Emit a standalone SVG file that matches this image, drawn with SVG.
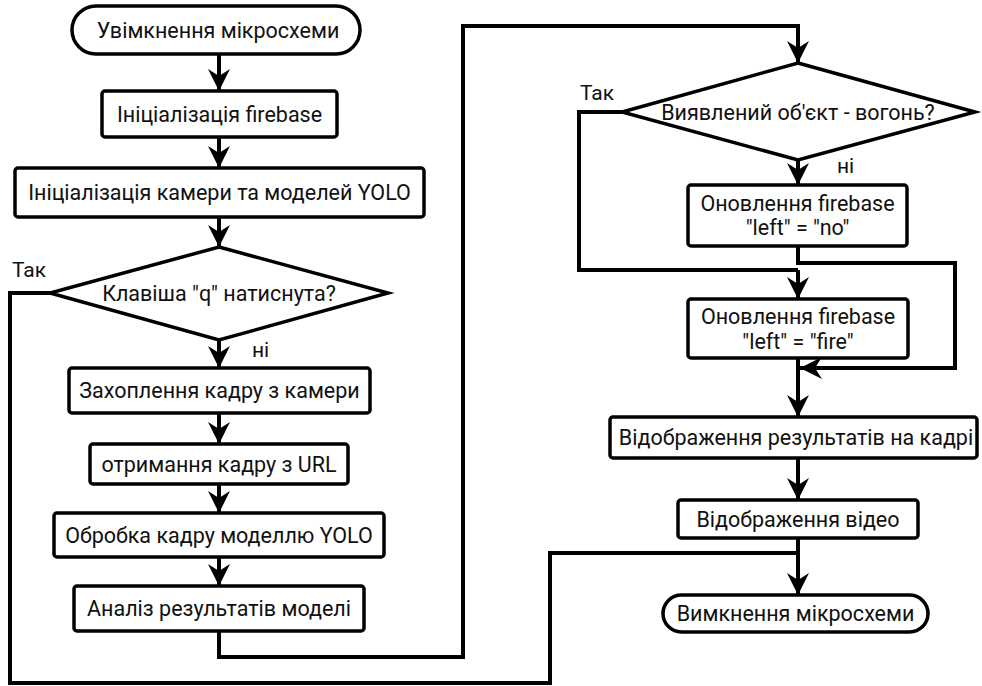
<svg xmlns="http://www.w3.org/2000/svg" width="982" height="686" viewBox="0 0 982 686">
<style>
.n{fill:#fff;stroke:#000;stroke-width:3.5}
.t{font-family:Roboto,"Noto Sans",sans-serif;font-size:21.5px;fill:#111;text-anchor:middle}
.l{font-family:Roboto,"Noto Sans",sans-serif;font-size:21px;fill:#111}
.c{fill:none;stroke:#000;stroke-width:4}
.a{marker-end:url(#arr)}
</style>
<defs>
<marker id="arr" markerWidth="24" markerHeight="24" refX="22" refY="11" orient="auto" markerUnits="userSpaceOnUse">
<path d="M0,0 L22,11 L0,22 L7,11 Z" fill="#000"/>
</marker>
</defs>
<rect width="982" height="686" fill="#fff"/>
<g id="connectors">
<path class="c a" d="M219,54 V91"/>
<path class="c a" d="M219,137 V168"/>
<path class="c a" d="M219,217 V247"/>
<path class="c a" d="M219,340 V368"/>
<path class="c a" d="M219,413 V444"/>
<path class="c a" d="M219,484 V513"/>
<path class="c a" d="M219,557 V586"/>
<path class="c a" d="M219,631 V657 H463 V26 H798 V63"/>
<path class="c" d="M50,293 H10 V683 H550 V553 H798"/>
<path class="c a" d="M798,160 V185"/>
<path class="c" d="M622,112 H579 V270 H798"/>
<path class="c a" d="M798,246 V263 H955 V368 H800"/>
<path class="c a" d="M798,270 V299"/>
<path class="c a" d="M798,358 V417"/>
<path class="c a" d="M798,458 V500"/>
<path class="c a" d="M798,538 V595"/>
<text class="l" x="12" y="277">Так</text>
<text class="l" x="252" y="357">ні</text>
<text class="l" x="580" y="100">Так</text>
<text class="l" x="837" y="173">ні</text>
</g>
<g id="start">
<rect class="n" x="72" y="6" width="288" height="48" rx="24"/>
<text class="t" x="218" y="37.5">Увімкнення мікросхеми</text>
</g>
<g id="init-firebase">
<rect class="n" x="102" y="91" width="235" height="46" rx="3"/>
<text class="t" x="219.5" y="121.5">Ініціалізація firebase</text>
</g>
<g id="init-camera">
<rect class="n" x="15" y="168" width="409" height="49" rx="3"/>
<text class="t" x="219.5" y="200">Ініціалізація камери та моделей YOLO</text>
</g>
<g id="key-q">
<polygon class="n" points="219,247 388,293 219,340 50,293"/>
<text class="t" x="219" y="300.5">Клавіша "q" натиснута?</text>
</g>
<g id="capture">
<rect class="n" x="69" y="368" width="301" height="45" rx="3"/>
<text class="t" x="219.5" y="398">Захоплення кадру з камери</text>
</g>
<g id="url">
<rect class="n" x="90" y="444" width="258" height="40" rx="3"/>
<text class="t" x="219" y="471.5">отримання кадру з URL</text>
</g>
<g id="yolo">
<rect class="n" x="54" y="513" width="330" height="44" rx="3"/>
<text class="t" x="219" y="542.5">Обробка кадру моделлю YOLO</text>
</g>
<g id="analysis">
<rect class="n" x="74" y="586" width="290" height="45" rx="3"/>
<text class="t" x="219" y="616">Аналіз результатів моделі</text>
</g>
<g id="fire-q">
<polygon class="n" points="798,63 975,112 798,160 622,112"/>
<text class="t" x="798" y="119.5">Виявлений об'єкт - вогонь?</text>
</g>
<g id="fb-no">
<rect class="n" x="688" y="185" width="219" height="61" rx="3"/>
<text class="t" x="797.5" y="211">Оновлення firebase</text>
<text class="t" x="797.5" y="235">"left" = "no"</text>
</g>
<g id="fb-fire">
<rect class="n" x="688" y="299" width="220" height="59" rx="3"/>
<text class="t" x="798" y="324">Оновлення firebase</text>
<text class="t" x="798" y="349">"left" = "fire"</text>
</g>
<g id="show-results">
<rect class="n" x="610" y="417" width="367" height="41" rx="3"/>
<text class="t" x="796" y="445">Відображення результатів на кадрі</text>
</g>
<g id="show-video">
<rect class="n" x="678" y="500" width="240" height="38" rx="3"/>
<text class="t" x="798" y="526.5">Відображення відео</text>
</g>
<g id="end">
<rect class="n" x="663" y="595" width="265" height="37" rx="18.5"/>
<text class="t" x="795.5" y="621">Вимкнення мікросхеми</text>
</g>
</svg>
